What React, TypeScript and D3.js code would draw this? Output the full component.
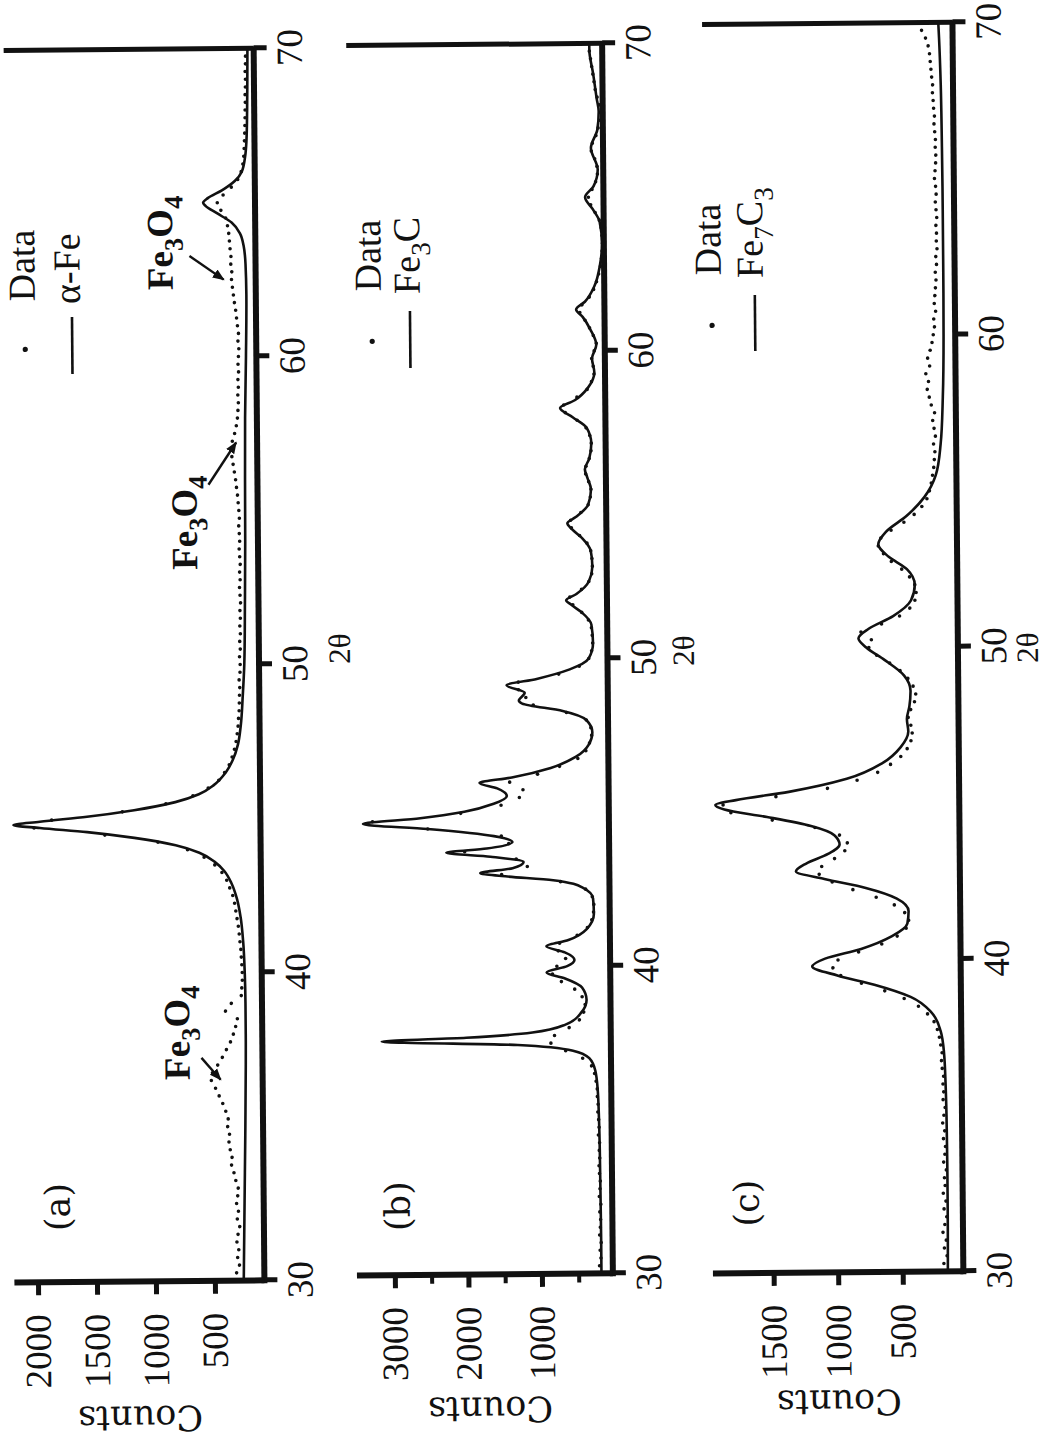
import React, { useRef, useEffect } from 'react';
import * as d3 from 'd3';

const W = 1052;
const H = 1439;

// 2θ positions of the recorded scans (0.25° step)
const scanTheta = d3.range(0, 161).map(i => 30 + i * 0.25);

const thetaTicks = [30, 40, 50, 60, 70];

// ---------- (a) alpha-Fe ----------
const fitThetaA = [30, 31, 32, 33, 34, 35, 36, 37, 38, 39, 40, 41, 41.8, 42.4, 42.9, 43.3, 43.6, 43.9, 44.15, 44.4, 44.6, 44.75, 44.85, 44.95, 45.1, 45.3, 45.55, 45.8, 46.1, 46.5, 46.9, 47.4, 48, 49, 50, 52, 54, 56, 58, 60, 62, 63, 63.6, 64, 64.35, 64.65, 64.9, 65, 65.15, 65.4, 65.7, 66, 66.5, 67, 68, 69, 70];
const fitCountsA = [255, 250, 245, 240, 235, 230, 226, 222, 220, 220, 224, 235, 255, 285, 330, 390, 470, 600, 800, 1150, 1550, 1950, 2175, 1950, 1550, 1150, 800, 600, 470, 370, 310, 265, 240, 220, 205, 195, 188, 185, 180, 168, 160, 165, 180, 210, 280, 400, 500, 520, 480, 360, 250, 190, 160, 148, 140, 136, 133];
const dataCountsA = [
  300, 315, 290, 305, 295, 310, 300, 285,
  305, 295, 310, 300, 295, 315, 330, 350,
  345, 360, 370, 365, 380, 375, 395, 420,
  450, 480, 515, 505, 460, 420, 385, 350,
  325, 305, 290, 390, 340, 255, 250, 245,
  245, 248, 252, 255, 262, 268, 275, 285,
  295, 305, 320, 345, 370, 410, 470, 560,
  700, 950, 1400, 2000, 1850, 1250, 880, 650,
  520, 430, 380, 340, 315, 295, 280, 270,
  262, 258, 252, 250, 248, 245, 250, 242,
  240, 245, 238, 242, 236, 240, 235, 238,
  232, 236, 240, 234, 238, 232, 236, 240,
  235, 238, 242, 236, 240, 245, 250, 258,
  265, 275, 285, 295, 300, 290, 270, 255,
  245, 240, 236, 240, 235, 238, 232, 236,
  232, 228, 235, 230, 238, 245, 252, 262,
  270, 278, 285, 282, 290, 288, 295, 300,
  305, 315, 330, 370, 400, 350, 280, 225,
  195, 180, 172, 168, 165, 162, 160, 158,
  157, 155, 156, 153, 152, 154, 151, 150,
  150,
];
const countTicksA = [500, 1000, 1500, 2000];

// ---------- (b) Fe3C ----------
const fitThetaB = [30, 31, 32, 33, 34, 35, 36, 36.6, 37, 37.25, 37.45, 37.6, 37.7, 37.85, 38.1, 38.5, 38.9, 39.3, 39.6, 39.8, 40, 40.2, 40.45, 40.65, 40.85, 41.2, 41.7, 42.2, 42.55, 42.8, 42.95, 43.05, 43.2, 43.4, 43.58, 43.72, 43.85, 44.05, 44.25, 44.5, 44.68, 44.85, 45.05, 45.3, 45.55, 45.8, 45.98, 46.15, 46.45, 46.8, 47.2, 47.6, 48, 48.3, 48.55, 48.65, 48.9, 49.15, 49.35, 49.65, 50, 50.5, 51.1, 51.5, 51.75, 51.9, 52.1, 52.5, 53, 53.5, 53.9, 54.2, 54.4, 54.6, 55, 55.5, 55.9, 56.15, 56.5, 57, 57.5, 57.85, 58.15, 58.4, 58.8, 59.3, 59.75, 60.2, 60.7, 61.1, 61.35, 61.6, 62.1, 62.8, 63.5, 64.2, 64.6, 65, 65.35, 65.9, 66.6, 67.2, 67.8, 68.2, 69, 69.8, 70];
const fitCountsB = [190, 190, 192, 195, 198, 205, 220, 250, 330, 550, 1300, 3150, 2000, 1100, 650, 430, 360, 420, 650, 900, 620, 520, 650, 900, 600, 350, 250, 260, 400, 800, 1500, 1790, 1350, 1200, 1650, 2250, 1700, 1350, 1600, 2500, 3380, 2600, 2000, 1600, 1420, 1550, 1790, 1350, 820, 480, 300, 250, 330, 650, 1200, 1245, 1165, 1410, 1000, 550, 290, 230, 250, 380, 520, 590, 450, 280, 230, 250, 360, 500, 565, 450, 280, 240, 290, 320, 260, 230, 290, 480, 650, 450, 270, 180, 210, 150, 230, 330, 420, 300, 170, 90, 60, 90, 180, 285, 170, 110, 200, 110, 90, 115, 160, 210, 210];
const dataCountsB = [
  200, 215, 195, 205, 190, 210, 200, 195,
  205, 190, 210, 200, 195, 205, 210, 200,
  205, 200, 215, 205, 210, 220, 215, 225,
  225, 240, 260, 300, 420, 650, 850, 800,
  600, 460, 400, 380, 420, 520, 700, 820,
  760, 640, 740, 720, 480, 340, 280, 255,
  250, 270, 360, 700, 1500, 1150, 1300, 2000,
  1400, 1500, 2500, 3250, 2050, 1500, 1250, 1200,
  1380, 1000, 700, 450, 340, 290, 260, 270,
  330, 600, 1050, 1150, 1250, 1250, 700, 420,
  290, 250, 235, 240, 250, 290, 380, 500,
  540, 380, 280, 240, 230, 235, 250, 300,
  400, 510, 520, 380, 280, 250, 240, 270,
  310, 305, 260, 235, 230, 250, 300, 420,
  580, 600, 420, 280, 220, 185, 195, 215,
  180, 150, 190, 240, 300, 370, 340, 240,
  180, 140, 110, 85, 70, 60, 55, 60,
  70, 95, 150, 210, 240, 190, 140, 115,
  120, 150, 195, 180, 130, 100, 75, 65,
  80, 110, 135, 150, 165, 180, 195, 210,
  215,
];
const countTicksB = [1000, 2000, 3000];
const minorTicksB = [500, 1500, 2500];

// ---------- (c) Fe7C3 ----------
const fitThetaC = [30, 31, 32, 33, 34, 35, 36, 37, 37.7, 38.3, 38.8, 39.2, 39.5, 39.8, 40.05, 40.35, 40.75, 41.15, 41.55, 41.95, 42.3, 42.6, 42.85, 43.1, 43.4, 43.7, 44.0, 44.3, 44.6, 44.85, 45.0, 45.15, 45.4, 45.8, 46.3, 46.8, 47.3, 47.7, 48.1, 48.6, 49.1, 49.6, 50, 50.3, 50.6, 51, 51.5, 52, 52.5, 52.9, 53.3, 53.7, 54.2, 54.8, 55.5, 56.5, 58, 60, 62, 64, 66, 68, 69.5, 70];
const fitCountsC = [150, 148, 147, 147, 148, 150, 155, 165, 190, 260, 420, 700, 980, 1180, 1080, 800, 560, 440, 430, 520, 760, 1080, 1300, 1220, 1050, 960, 1000, 1180, 1520, 1850, 1920, 1760, 1350, 900, 620, 480, 420, 430, 410, 400, 450, 600, 740, 800, 720, 530, 390, 360, 420, 560, 640, 580, 420, 280, 190, 150, 130, 120, 118, 118, 120, 125, 135, 140];
const dataCountsC = [
  165, 180, 155, 175, 160, 185, 170, 155,
  175, 160, 180, 165, 170, 155, 175, 165,
  160, 175, 165, 180, 170, 160, 175, 170,
  175, 170, 180, 185, 180, 190, 200, 215,
  240, 290, 360, 470, 620, 800, 960, 1020,
  980, 820, 640, 520, 450, 430, 460, 540,
  680, 860, 1020, 1120, 1100, 1000, 920, 900,
  960, 1150, 1480, 1800, 1860, 1450, 1050, 820,
  660, 560, 480, 430, 400, 390, 400, 420,
  400, 370, 360, 380, 420, 480, 560, 660,
  720, 700, 780, 620, 480, 400, 360, 350,
  360, 400, 460, 540, 600, 640, 620, 540,
  440, 360, 300, 260, 240, 225, 215, 205,
  200, 195, 205, 190, 200, 210, 195, 220,
  235, 250, 240, 260, 230, 245, 225, 210,
  200, 190, 195, 180, 190, 185, 180, 175,
  180, 170, 175, 165, 170, 168, 172, 165,
  170, 175, 168, 172, 180, 175, 170, 168,
  172, 170, 175, 180, 176, 182, 185, 190,
  188, 195, 200, 205, 210, 220, 240, 270,
  300,
];
const countTicksC = [500, 1000, 1500];

const tickFont = '"Liberation Serif", "DejaVu Serif", serif';
const labelFont = '"DejaVu Serif", "Liberation Serif", serif';
const ink = '#111';

// page positions are measured in page pixels; the drawing is rotated, so a
// page point (sx, sy) sits at local (H - sy, sx)
const L = (sx, sy) => [H - sy, sx];

const panels = [
  {
    fitTheta: fitThetaA, fitCounts: fitCountsA, data: dataCountsA,
    ticks: countTicksA, minor: [],
    y30: 1278, y70: 46, domain: [80, 2200], axisX: 259, topX: 9,
    tag: '(a)', tagAt: [65, 1203], countsAt: [36, 134], twoThetaAt: [350, 647],
    legend: { dot: [28, 345], data: [38, 297], line: [75, 313, 370], fit: [83, 300] },
    fitName: [['α-Fe', 0]],
    notes: [
      { text: [38, 287], base: 176, from: [193, 253], to: [227, 277] },
      { text: [0, 567], base: 198, from: [210, 482], to: [238, 440] },
      { text: [0, 1077], base: 186, from: [198, 1055], to: [217, 1077] },
    ],
  },
  {
    fitTheta: fitThetaB, fitCounts: fitCountsB, data: dataCountsB,
    ticks: countTicksB, minor: minorTicksB,
    y30: 1274, y70: 44, domain: [35, 3515], axisX: 607.5, topX: 351.6,
    tag: '(b)', tagAt: [405, 1205], countsAt: [42, 484], twoThetaAt: [694, 652],
    legend: { dot: [375, 340], data: [384, 290], line: [413, 310, 367], fit: [423, 293] },
    fitName: [['Fe', 0], ['3', 1], ['C', 0]],
    notes: [],
  },
  {
    fitTheta: fitThetaC, fitCounts: fitCountsC, data: dataCountsC,
    ticks: countTicksC, minor: [],
    y30: 1275, y70: 26, domain: [30, 1970], axisX: 958, topX: 707.6,
    tag: '(c)', tagAt: [754, 1205], countsAt: [46, 833], twoThetaAt: [1038, 652],
    legend: { dot: [715, 327], data: [724, 277], line: [758, 297, 353], fit: [766, 280] },
    fitName: [['Fe', 0], ['7', 1], ['C', 0], ['3', 1]],
    notes: [],
  },
];

function subText(sel, parts, size) {
  let shifted = false;
  parts.forEach(([t, sub]) => {
    const dy = sub && !shifted ? size * 0.28 : !sub && shifted ? -size * 0.28 : 0;
    shifted = !!sub;
    sel.append('tspan').attr('dy', dy).attr('font-size', sub ? size * 0.72 : size).text(t);
  });
}

function drawPanel(root, p) {
  const g = root.append('g');
  const x = d3.scaleLinear().domain([30, 70]).range([H - p.y30, H - p.y70]);
  const y = d3.scaleLinear().domain(p.domain).range([p.axisX, p.topX]);
  const base = y(p.domain[0]);
  const top = y(p.domain[1]);

  // measured points
  g.append('g')
    .selectAll('circle')
    .data(p.data)
    .join('circle')
    .attr('cx', (d, i) => x(scanTheta[i]))
    .attr('cy', d => y(d))
    .attr('r', 1.8)
    .attr('fill', ink);

  // calculated pattern
  const line = d3.line()
    .x((d, i) => x(p.fitTheta[i]))
    .y(d => y(d))
    .curve(d3.curveMonotoneX);
  g.append('path')
    .datum(p.fitCounts)
    .attr('d', line)
    .attr('fill', 'none')
    .attr('stroke', ink)
    .attr('stroke-width', 2.6)
    .attr('stroke-linejoin', 'round');

  // frame
  g.append('line').attr('x1', x(30) - 3).attr('x2', x(70) + 2).attr('y1', base).attr('y2', base)
    .attr('stroke', ink).attr('stroke-width', 6);
  g.append('line').attr('x1', x(30)).attr('x2', x(30)).attr('y1', base).attr('y2', top)
    .attr('stroke', ink).attr('stroke-width', 6);
  g.append('line').attr('x1', x(70)).attr('x2', x(70)).attr('y1', base).attr('y2', top)
    .attr('stroke', ink).attr('stroke-width', 5);

  const fmt = d3.format('d');

  // 2θ axis
  const gx = g.append('g')
    .attr('transform', `translate(0,${base})`)
    .call(d3.axisBottom(x).tickValues(thetaTicks).tickSize(13).tickPadding(9).tickFormat(fmt));
  gx.select('.domain').remove();
  gx.selectAll('.tick line').attr('stroke', ink).attr('stroke-width', 5);
  gx.selectAll('.tick text').attr('font-size', 37).attr('font-family', tickFont).attr('fill', ink);

  // counts axis
  const gy = g.append('g')
    .attr('transform', `translate(${x(30)},0)`)
    .call(d3.axisLeft(y).tickValues(p.ticks).tickSize(13).tickPadding(19).tickFormat(fmt));
  gy.select('.domain').remove();
  gy.selectAll('.tick line').attr('stroke', ink).attr('stroke-width', 5);
  gy.selectAll('.tick text').attr('font-size', 37).attr('font-family', tickFont).attr('fill', ink);

  if (p.minor.length) {
    const gm = g.append('g')
      .attr('transform', `translate(${x(30)},0)`)
      .call(d3.axisLeft(y).tickValues(p.minor).tickSize(9).tickFormat(() => ''));
    gm.select('.domain').remove();
    gm.selectAll('.tick line').attr('stroke', ink).attr('stroke-width', 4);
  }

  // panel tag
  const [tx, ty] = L(p.tagAt[0], p.tagAt[1]);
  g.append('text').attr('x', tx).attr('y', ty).attr('text-anchor', 'middle')
    .attr('font-family', labelFont).attr('font-size', 35).attr('fill', ink).text(p.tag);

  // Counts label
  g.append('text')
    .attr('transform', `translate(${p.countsAt[0]},${p.countsAt[1]}) rotate(-90)`)
    .attr('text-anchor', 'middle')
    .attr('font-family', labelFont).attr('font-size', 35).attr('fill', ink)
    .text('Counts');

  // 2θ label
  const [ax, ay] = L(p.twoThetaAt[0], p.twoThetaAt[1]);
  g.append('text').attr('x', ax).attr('y', ay).attr('text-anchor', 'middle')
    .attr('font-family', tickFont).attr('font-size', 31).attr('fill', ink).text('2θ');

  // legend
  const lg = p.legend;
  const [dx, dy] = L(lg.dot[0], lg.dot[1]);
  g.append('circle').attr('cx', dx).attr('cy', dy).attr('r', 2.6).attr('fill', ink);
  const [t1x, t1y] = L(lg.data[0], lg.data[1]);
  g.append('text').attr('x', t1x).attr('y', t1y)
    .attr('font-family', tickFont).attr('font-size', 38).attr('fill', ink).text('Data');
  const [l1x, l1y] = L(lg.line[0], lg.line[2]);
  const [l2x] = L(lg.line[0], lg.line[1]);
  g.append('line').attr('x1', l1x).attr('x2', l2x).attr('y1', l1y).attr('y2', l1y)
    .attr('stroke', ink).attr('stroke-width', 2.6);
  const [t2x, t2y] = L(lg.fit[0], lg.fit[1]);
  const ft = g.append('text').attr('x', t2x).attr('y', t2y)
    .attr('font-family', tickFont).attr('font-size', 38).attr('fill', ink);
  subText(ft, p.fitName, 38);

  // Fe3O4 markers
  p.notes.forEach(n => {
    const [nx, ny] = L(n.base, n.text[1]);
    const t = g.append('text').attr('x', nx).attr('y', ny)
      .attr('font-family', tickFont).attr('font-weight', 'bold').attr('font-size', 37).attr('fill', ink);
    subText(t, [['Fe', 0], ['3', 1], ['O', 0], ['4', 1]], 37);
    const [fx, fy] = L(n.from[0], n.from[1]);
    const [ex, ey] = L(n.to[0], n.to[1]);
    g.append('line').attr('x1', fx).attr('y1', fy).attr('x2', ex).attr('y2', ey)
      .attr('stroke', ink).attr('stroke-width', 2.4).attr('marker-end', 'url(#arrow)');
  });
}

const App = () => {
  const svgRef = useRef(null);

  useEffect(() => {
    const svg = d3.select(svgRef.current);
    svg.selectAll('*').remove();

    svg.append('defs').append('marker')
      .attr('id', 'arrow')
      .attr('viewBox', '0 0 10 10')
      .attr('refX', 9).attr('refY', 5)
      .attr('markerWidth', 5).attr('markerHeight', 5)
      .attr('markerUnits', 'strokeWidth')
      .attr('orient', 'auto')
      .append('path').attr('d', 'M0,1 L10,5 L0,9 Z').attr('fill', ink);

    // whole figure is printed sideways (and scanned a little askew)
    const root = svg.append('g')
      .attr('transform', `rotate(-0.5 526 660) translate(0 ${H}) rotate(-90)`);

    panels.forEach(p => drawPanel(root, p));
  }, []);

  return (
    <svg
      ref={svgRef}
      width={W}
      height={H}
      style={{ position: 'absolute', left: 0, top: 0, background: '#fff', display: 'block' }}
    />
  );
};

export default App;
